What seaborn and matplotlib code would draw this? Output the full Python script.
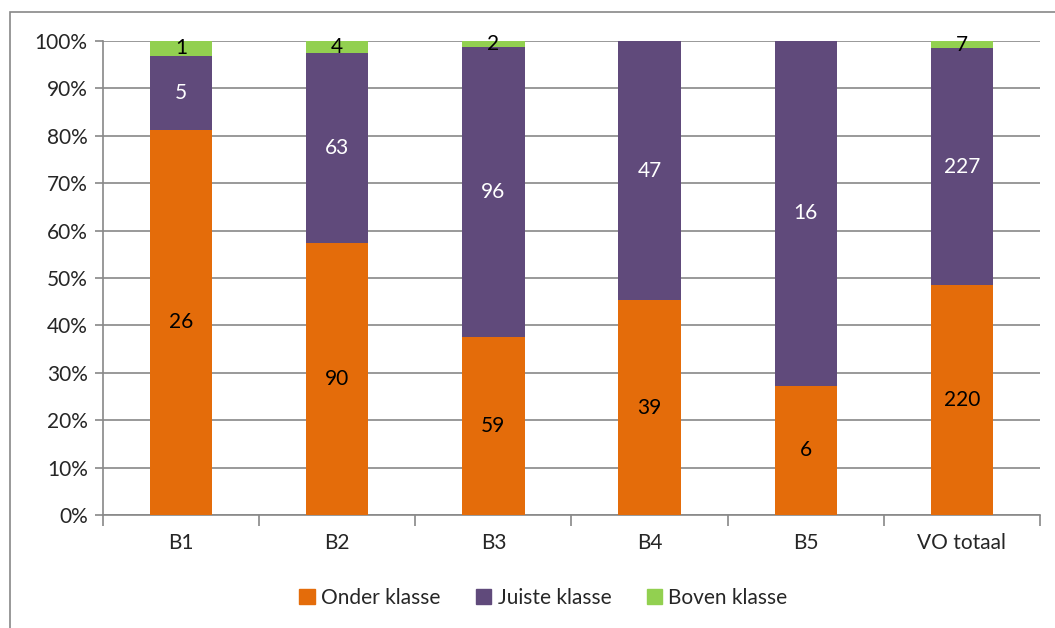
import numpy as np
import pandas as pd
import matplotlib.pyplot as plt
import matplotlib.patches as mpatches
import seaborn as sns

# Data: counts per group
groepen = ["B1", "B2", "B3", "B4", "B5", "VO totaal"]
onder = [26, 90, 59, 39, 6, 220]
juiste = [5, 63, 96, 47, 16, 227]
boven = [1, 4, 2, 0, 0, 7]

reeksen = ["Onder klasse", "Juiste klasse", "Boven klasse"]
kleuren = ["#E46C0A", "#604A7B", "#92D050"]
tekstkleur = ["black", "white", "black"]

sns.set_theme(style="white")
plt.rcParams["font.family"] = ["Lato", "DejaVu Sans"]

df = pd.DataFrame({"groep": groepen, "Onder klasse": onder,
                   "Juiste klasse": juiste, "Boven klasse": boven})
totaal = df[reeksen].sum(axis=1)
pct = df[reeksen].div(totaal, axis=0) * 100

fig = plt.figure(figsize=(10.55, 6.28), dpi=100)
ax = fig.add_axes([0.0976, 0.1799, 0.8882, 0.7548])

# outer chart border
fig.patches.append(mpatches.Rectangle((10 / 1055, -0.1), 1.2, 1 - 12 / 628 + 0.1,
                                      transform=fig.transFigure, fill=False,
                                      edgecolor="#888888", lw=1.2, zorder=0))

onderkant = np.zeros(len(groepen))
for r, kl, tk in zip(reeksen, kleuren, tekstkleur):
    sns.barplot(x=df["groep"], y=pct[r], bottom=onderkant, color=kl, width=0.4,
                ax=ax, saturation=1, edgecolor="none", zorder=3)
    for i, (v, p) in enumerate(zip(df[r], pct[r])):
        if v > 0:
            ax.text(i, onderkant[i] + p / 2, str(v), ha="center", va="center",
                    color=tk, fontsize=15, zorder=4)
    onderkant = onderkant + pct[r].values

ax.set_xlim(-0.5, len(groepen) - 0.5)
ax.set_ylim(0, 100)
ax.set_yticks(np.arange(0, 101, 10))
ax.set_yticklabels([f"{t}%" for t in range(0, 101, 10)], fontsize=15)
ax.yaxis.grid(True, color="#888888", lw=1.2, zorder=0)
ax.set_axisbelow(True)
ax.tick_params(axis="y", length=6, width=1.2, color="#888888", left=True, pad=5)
ax.tick_params(axis="x", labelsize=15, length=0, pad=13)
ax.set_xticks(np.arange(-0.5, len(groepen)), minor=True)
ax.tick_params(axis="x", which="minor", length=8, width=1.2, color="#888888", bottom=True)
ax.set_xlabel("")
ax.set_ylabel("")
for s in ["top", "right"]:
    ax.spines[s].set_visible(False)
for s in ["left", "bottom"]:
    ax.spines[s].set_color("#888888")
    ax.spines[s].set_linewidth(1.2)

handles = [mpatches.Patch(color=k, label=r) for r, k in zip(reeksen, kleuren)]
fig.legend(handles=handles, loc="center", bbox_to_anchor=(0.515, 1 - 598 / 628),
           ncol=3, frameon=False, fontsize=15, handlelength=0.75, handleheight=0.75,
           handletextpad=0.3, columnspacing=1.7)

fig.savefig("out.png", dpi=100)
